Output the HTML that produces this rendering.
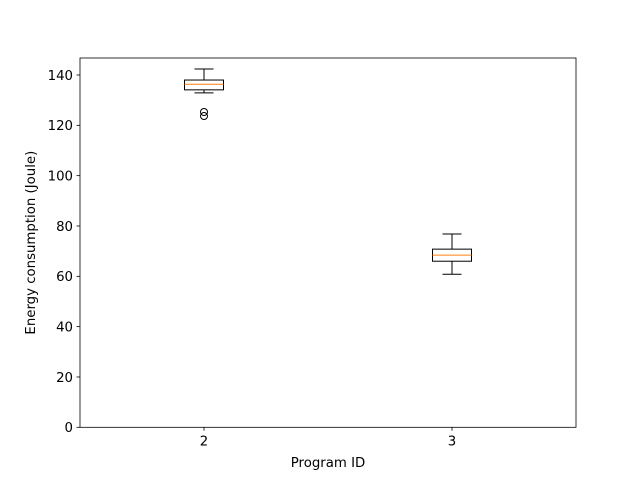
<!DOCTYPE html>
<html><head><meta charset="utf-8"><style>body{margin:0;background:#fff}svg{display:block}text{font-family:"DejaVu Sans","Liberation Sans",sans-serif;font-size:13.3px;fill:#000}</style></head>
<body>
<svg id="chart" width="640" height="480" viewBox="0 0 640 480"></svg>
<script>
const categories = ["2", "3"];
const whiskerLow = [132.9, 60.8];
const q1 = [134.1, 66.0];
const medians = [136.3, 68.4];
const q3 = [138.0, 70.8];
const whiskerHigh = [142.4, 76.8];
const fliers = [[125.3, 123.7], []];
const yTicks = [0, 20, 40, 60, 80, 100, 120, 140];

const L=80,R=576,T=58,B=427.3;
const xPos=i=>L+(i+0.5)*(R-L)/2;
const y=v=>B-v*(B-75)/140;
const NS="http://www.w3.org/2000/svg";
const svg=document.getElementById('chart');
function mk(t,a,p){const e=document.createElementNS(NS,t);for(const k in a)e.setAttribute(k,a[k]);(p||svg).appendChild(e);return e;}

yTicks.forEach(v=>{
  const g=mk('g',{});
  
  
  mk('line',{x1:L-3.5,x2:L,y1:y(v),y2:y(v),stroke:'#000','stroke-width':0.8},g);
  const t=mk('text',{x:L-7,y:y(v)+4.8,'text-anchor':'end'},g);t.textContent=v;
});
categories.forEach((c,i)=>{
  const x=xPos(i),hw=19.5,cw=9.5;
  const g=mk('g',{});
  
  
  mk('line',{x1:x,x2:x,y1:y(whiskerLow[i]),y2:y(q1[i]),stroke:'#000'},g);
  mk('line',{x1:x,x2:x,y1:y(whiskerHigh[i]),y2:y(q3[i]),stroke:'#000'},g);
  mk('line',{x1:x-cw,x2:x+cw,y1:y(whiskerLow[i]),y2:y(whiskerLow[i]),stroke:'#000'},g);
  mk('line',{x1:x-cw,x2:x+cw,y1:y(whiskerHigh[i]),y2:y(whiskerHigh[i]),stroke:'#000'},g);
  mk('rect',{x:x-hw,y:y(q3[i]),width:2*hw,height:y(q1[i])-y(q3[i]),fill:'none',stroke:'#000'},g);
  mk('line',{x1:x-hw,x2:x+hw,y1:y(medians[i]),y2:y(medians[i]),stroke:'#ff7f0e'},g);
  fliers[i].forEach(f=>mk('circle',{cx:x,cy:y(f),r:3.5,fill:'none',stroke:'#000'},g));
  mk('line',{x1:x,x2:x,y1:B,y2:B+3.5,stroke:'#000','stroke-width':0.8},g);
  const t=mk('text',{x:x,y:B+18,'text-anchor':'middle'},g);t.textContent=c;
});
const fr=mk('rect',{x:L,y:T,width:R-L,height:B-T,fill:'none',stroke:'#000','stroke-width':0.8});


const xt=mk('text',{x:(L+R)/2,y:467,'text-anchor':'middle'});xt.textContent='Program ID';


const yt=mk('text',{x:0,y:0,'text-anchor':'middle',transform:'translate(35,'+((T+B)/2)+') rotate(-90)'});yt.textContent='Energy consumption (Joule)';


</script>
</body></html>
